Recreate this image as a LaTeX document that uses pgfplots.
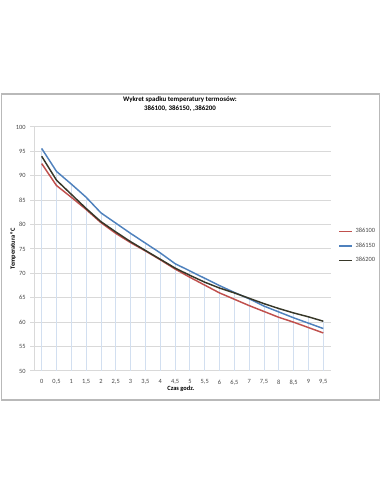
\documentclass[border=0pt]{standalone}
\usepackage{pgfplots}
\pgfplotsset{compat=1.18}
\usepackage{fontspec}
\setmainfont{Carlito}
\definecolor{sred}{RGB}{192,80,77}
\definecolor{sblue}{RGB}{79,129,189}
\definecolor{sblk}{RGB}{55,55,40}
\definecolor{dropc}{RGB}{210,223,240}
\definecolor{gridc}{RGB}{217,217,217}
\definecolor{framec}{RGB}{185,185,185}
\definecolor{txtc}{RGB}{70,70,70}
\begin{document}
\begin{tikzpicture}
\useasboundingbox (0pt,0pt) rectangle (285.75pt,369pt);
\draw[framec, line width=0.8pt] (1.1pt,69pt) rectangle (284.6pt,298.5pt);
\node[font=\bfseries\fontsize{5.2}{6.75}\selectfont, align=center] at (135pt,290.6pt) {Wykret spadku temperatury termosów:\\386100, 386150, ,386200};
\begin{axis}[
  at={(25.7pt,90.75pt)}, anchor=south west,
  scale only axis, width=222.3pt, height=183pt,
  xmin=-0.25, xmax=9.75, ymin=50, ymax=100,
  xtick={0,0.5,1,1.5,2,2.5,3,3.5,4,4.5,5,5.5,6,6.5,7,7.5,8,8.5,9,9.5},
  xticklabels={0,{0,5},1,{1,5},2,{2,5},3,{3,5},4,{4,5},5,{5,5},6,{6,5},7,{7,5},8,{8,5},9,{9,5}},
  ytick={50,55,60,65,70,75,80,85,90,95,100},
  ymajorgrids, grid style={gridc, line width=0.75pt},
  axis x line*=bottom, axis y line*=left,
  axis line style={gridc, line width=0.75pt, -},
  x axis line style={draw=none},
  xtick style={draw=none},
  ytick style={gridc, line width=0.75pt},
  tick align=outside, major tick length=3pt,
  /pgf/number format/assume math mode=true,
  ticklabel style={font=\fontsize{4.8}{5.8}\selectfont, text=txtc},
  xlabel={Czas godz.}, ylabel={Temperatura °C},
  label style={font=\bfseries\fontsize{4.8}{5.8}\selectfont},
  xlabel style={at={(axis description cs:0.495,-0.072)}, anchor=center},
  ylabel style={at={(axis description cs:-0.071,0.5)}, anchor=center},
  legend style={at={(axis description cs:1.025,0.512)}, anchor=west, draw=none, fill=none,
    font=\fontsize{4.8}{5.8}\selectfont, text=txtc, row sep=2.2pt, inner sep=0pt},
  legend cell align=left,
  legend image code/.code={\draw[#1] (0pt,0pt) -- (10pt,0pt);},
]
\addplot[ycomb, dropc, line width=0.6pt, forget plot] coordinates {
(0,95.6) (0.5,90.9) (1,88.3) (1.5,85.6) (2,82.6) (2.5,80.5) (3,78.3) (3.5,76.2) (4,74.2) (4.5,72.0)
(5,70.5) (5.5,69.0) (6,67.5) (6.5,66.1) (7,64.9) (7.5,63.8) (8,62.8) (8.5,61.9) (9,61.1) (9.5,60.2)};
\addplot[color=sred, line width=1.1pt, forget plot] coordinates {
(0,92.5) (0.5,88.0) (1,85.6) (1.5,83.1) (2,80.4) (2.5,78.2) (3,76.3) (3.5,74.6) (4,72.8) (4.5,70.9)
(5,69.2) (5.5,67.6) (6,66.0) (6.5,64.7) (7,63.4) (7.5,62.2) (8,61.0) (8.5,60.0) (9,58.9) (9.5,57.8)};
\addplot[color=sblue, line width=1.1pt, forget plot] coordinates {
(0,95.6) (0.5,90.9) (1,88.3) (1.5,85.6) (2,82.4) (2.5,80.3) (3,78.2) (3.5,76.2) (4,74.2) (4.5,72.0)
(5,70.5) (5.5,69.0) (6,67.5) (6.5,66.1) (7,64.8) (7.5,63.3) (8,62.1) (8.5,60.9) (9,59.8) (9.5,58.7)};
\addplot[color=sblk, line width=1.1pt, forget plot] coordinates {
(0,94.0) (0.5,89.1) (1,86.2) (1.5,83.3) (2,80.6) (2.5,78.5) (3,76.5) (3.5,74.7) (4,72.9) (4.5,71.1)
(5,69.6) (5.5,68.2) (6,67.0) (6.5,66.0) (7,64.9) (7.5,63.8) (8,62.8) (8.5,61.9) (9,61.1) (9.5,60.2)};
\addlegendimage{color=sred, line width=1pt}
\addlegendentry{386100}
\addlegendimage{color=sblue, line width=1pt}
\addlegendentry{386150}
\addlegendimage{color=sblk, line width=1pt}
\addlegendentry{386200}
\end{axis}
\end{tikzpicture}
\end{document}
